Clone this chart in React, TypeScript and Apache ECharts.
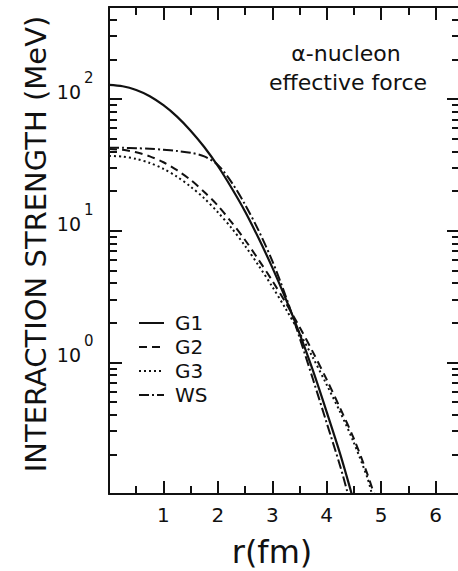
import React, { useEffect, useRef } from 'react';
import * as echarts from 'echarts';

const FONT = '"DejaVu Sans", sans-serif';
const INK = '#111';

const X_MIN = 0;
const X_MAX = 6.45;
const Y_MIN = 0.1;
const Y_MAX = 500;

// r (fm) and interaction strength (MeV)
const rG1 = [0, 0.25, 0.5, 0.75, 1, 1.25, 1.5, 1.75, 2, 2.25, 2.5, 2.75, 3, 3.25, 3.5, 3.75, 4, 4.25, 4.46];
const vG1 = [128, 125, 117, 105, 89.7, 73.5, 57.5, 43.2, 31.0, 21.2, 14.0, 8.75, 5.26, 3.02, 1.66, 0.86, 0.42, 0.2, 0.1];

const rG2 = [0, 0.25, 0.5, 0.75, 1, 1.25, 1.5, 1.75, 2, 2.25, 2.5, 2.75, 3, 3.25, 3.5, 3.75, 4, 4.25, 4.5, 4.75, 4.87];
const vG2 = [41.7, 41.1, 39.4, 36.7, 33.1, 28.8, 24.3, 19.7, 15.5, 11.6, 8.5, 6.0, 4.17, 2.82, 1.86, 1.19, 0.74, 0.447, 0.263, 0.141, 0.1];

const rG3 = [0, 0.25, 0.5, 0.75, 1, 1.25, 1.5, 1.75, 2, 2.25, 2.5, 2.75, 3, 3.25, 3.5, 3.75, 4, 4.25, 4.5, 4.75, 4.83];
const vG3 = [37.0, 36.5, 35.1, 32.7, 29.5, 25.7, 21.6, 17.6, 13.8, 10.5, 7.67, 5.43, 3.76, 2.54, 1.68, 1.08, 0.676, 0.417, 0.245, 0.132, 0.1];

const rWS = [0, 0.25, 0.5, 0.75, 1, 1.25, 1.5, 1.75, 2, 2.25, 2.5, 2.75, 3, 3.25, 3.5, 3.75, 4, 4.25, 4.39];
const vWS = [42.7, 42.6, 42.3, 41.9, 41.2, 40.3, 39.1, 36.7, 31.6, 23.4, 15.8, 10.0, 5.9, 3.16, 1.55, 0.74, 0.347, 0.162, 0.1];

const seriesNames = ['G1', 'G2', 'G3', 'WS'];

const yMinorTicks = [
  0.2, 0.3, 0.4, 0.5, 0.6, 0.7, 0.8, 0.9,
  2, 3, 4, 5, 6, 7, 8, 9,
  20, 30, 40, 50, 60, 70, 80, 90,
  200, 300, 400,
];
const yLabelValues = [1, 10, 100];

const yTitle = 'INTERACTION STRENGTH (MeV)';
const xTitle = 'r(fm)';
const noteLine1 = 'α-nucleon';
const noteLine2 = 'effective force';

const pairs = (r: number[], v: number[]) => r.map((x, i) => [x, v[i]]);

const MINOR_LEN = 8;
const MAJOR_LEN = 13;
const AXIS_W = 2;

export default function App() {
  const ref = useRef<HTMLDivElement>(null);

  useEffect(() => {
    if (!ref.current) return;
    const chart = echarts.init(ref.current, null, { renderer: 'svg' });

    const lineSeries = (name: string, r: number[], v: number[], type: any, width = 2) => ({
      name,
      type: 'line',
      data: pairs(r, v),
      showSymbol: false,
      symbol: 'none',
      smooth: 0.3,
      lineStyle: { color: INK, width, type },
      itemStyle: { color: INK },
    });

    const axisCommon = {
      axisLine: { show: true, onZero: false, lineStyle: { color: INK, width: AXIS_W } },
      axisTick: { show: true, inside: true, length: MAJOR_LEN, lineStyle: { color: INK, width: AXIS_W } },
      splitLine: { show: false },
    };
    const minorX = (position: string) => ({
      type: 'value',
      min: X_MIN,
      max: X_MAX,
      interval: 0.5,
      position,
      axisLine: { show: false, onZero: false },
      axisTick: { show: true, inside: true, length: MINOR_LEN, lineStyle: { color: INK, width: AXIS_W } },
      axisLabel: { show: false },
      splitLine: { show: false },
    });
    // linear axis in decades, aligned with the log axis, carrying the 2..9 minor ticks
    const minorY = (position: string) => ({
      type: 'value',
      min: Math.log10(Y_MIN),
      max: Math.log10(Y_MAX),
      position,
      axisLine: { show: false, onZero: false },
      axisTick: {
        show: true,
        inside: true,
        length: MINOR_LEN,
        lineStyle: { color: INK, width: AXIS_W },
        customValues: yMinorTicks.map((v) => Math.log10(v)),
      },
      axisLabel: { show: false },
      splitLine: { show: false },
    });

    const option: any = {
      animation: false,
      backgroundColor: '#fff',
      grid: {
        left: 109,
        top: 7,
        width: 351,
        height: 487,
        outerBoundsMode: 'none',
        containLabel: false,
      },
      legend: {
        data: seriesNames,
        orient: 'vertical',
        left: 138,
        top: 313,
        padding: 0,
        itemWidth: 25,
        itemHeight: 14,
        itemGap: 4,
        selectedMode: false,
        itemStyle: { opacity: 0 },
        textStyle: { fontSize: 20, fontFamily: FONT, color: INK, lineHeight: 20, padding: [0, 0, 0, 6] },
      },
      xAxis: [
        {
          type: 'value',
          min: X_MIN,
          max: X_MAX,
          interval: 1,
          position: 'bottom',
          ...axisCommon,
          axisLabel: {
            show: true,
            margin: 11,
            fontSize: 20,
            fontFamily: FONT,
            color: INK,
            formatter: (v: number) =>
              v >= 1 && Math.abs(v - Math.round(v)) < 1e-6 ? String(Math.round(v)) : '',
          },
        },
        {
          type: 'value',
          min: X_MIN,
          max: X_MAX,
          interval: 1,
          position: 'top',
          ...axisCommon,
          axisLabel: { show: false },
        },
        minorX('bottom'),
        minorX('top'),
      ],
      yAxis: [
        {
          type: 'log',
          logBase: 10,
          min: Y_MIN,
          max: Y_MAX,
          position: 'left',
          ...axisCommon,
          axisLabel: { show: false },
        },
        {
          type: 'log',
          logBase: 10,
          min: Y_MIN,
          max: Y_MAX,
          position: 'right',
          ...axisCommon,
          axisLabel: { show: false },
        },
        minorY('left'),
        minorY('right'),
      ],
      graphic: [
        {
          type: 'text',
          x: 36,
          y: 244,
          rotation: Math.PI / 2,
          style: { text: yTitle, fontSize: 29, fontFamily: FONT, fill: INK, align: 'center', verticalAlign: 'middle' },
        },
        {
          type: 'text',
          x: 272,
          y: 552,
          style: { text: xTitle, fontSize: 32, fontFamily: FONT, fill: INK, align: 'center', verticalAlign: 'middle' },
        },
        {
          type: 'text',
          x: 346,
          y: 53,
          style: { text: noteLine1, fontSize: 22, fontFamily: FONT, fill: INK, align: 'center', verticalAlign: 'middle' },
        },
        {
          type: 'text',
          x: 348,
          y: 82,
          style: { text: noteLine2, fontSize: 22, fontFamily: FONT, fill: INK, align: 'center', verticalAlign: 'middle' },
        },
      ],
      series: [
        lineSeries('G1', rG1, vG1, 'solid', 2.2),
        lineSeries('G2', rG2, vG2, [8, 5]),
        lineSeries('G3', rG3, vG3, [2, 3]),
        lineSeries('WS', rWS, vWS, [10, 3, 2, 3]),
        {
          name: 'yLabels',
          type: 'custom',
          clip: false,
          silent: true,
          xAxisIndex: 0,
          yAxisIndex: 0,
          data: yLabelValues.map((v) => [X_MIN, v]),
          renderItem: (params: any, api: any) => {
            const yv = api.value(1);
            const p = api.coord([X_MIN, yv]);
            const e = Math.round(Math.log10(yv));
            return {
              type: 'group',
              children: [
                {
                  type: 'text',
                  style: {
                    text: '10',
                    x: p[0] - 28,
                    y: p[1] - 7,
                    fontSize: 19,
                    fontFamily: FONT,
                    fill: INK,
                    align: 'right',
                    verticalAlign: 'middle',
                  },
                },
                {
                  type: 'text',
                  style: {
                    text: String(e),
                    x: p[0] - 25,
                    y: p[1] - 21,
                    fontSize: 15,
                    fontFamily: FONT,
                    fill: INK,
                    align: 'left',
                    verticalAlign: 'middle',
                  },
                },
              ],
            };
          },
        },
      ],
    };

    chart.setOption(option);
    return () => chart.dispose();
  }, []);

  return (
    <div
      style={{
        position: 'fixed',
        left: 0,
        top: 0,
        width: 458,
        height: 571,
        overflow: 'hidden',
        background: '#fff',
      }}
    >
      <div ref={ref} style={{ width: 466, height: 571 }} />
    </div>
  );
}
